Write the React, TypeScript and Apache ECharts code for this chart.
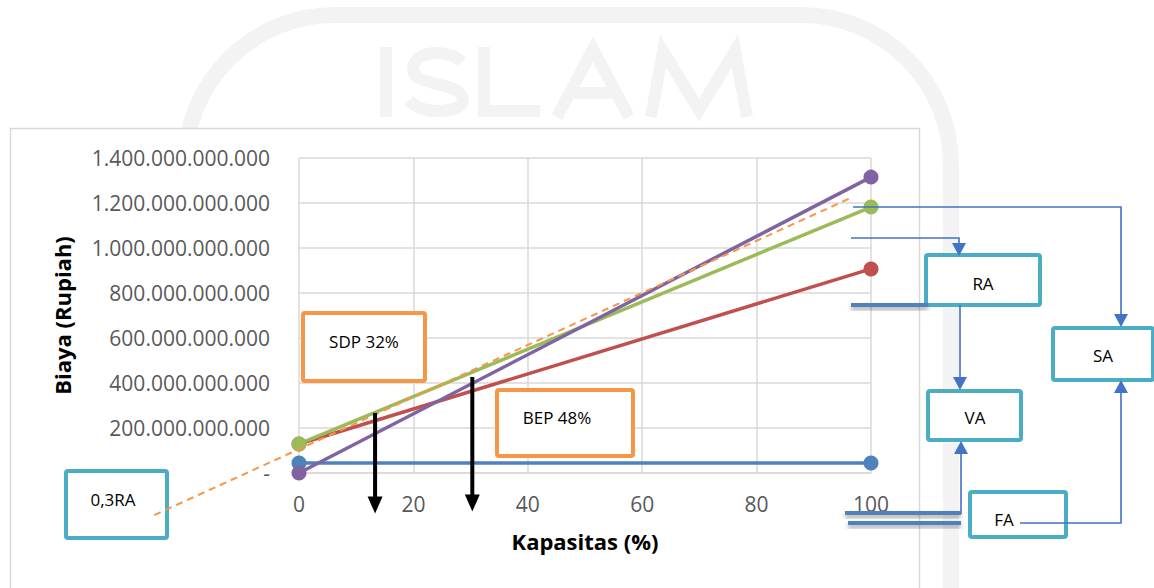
import React, { useEffect, useRef } from "react";
import * as echarts from "echarts";

// ---- data ----
const capacity = [0, 100];
const faValues = [44e9, 44e9]; // blue
const vaValues = [129e9, 907e9]; // red
const saValues = [129e9, 1182e9]; // green
const raValues = [0, 1315e9]; // purple
const raDashX = [-25.3, 96.4]; // 0,3RA dashed (orange)
const raDashY = [-187e9, 1222e9];
const arrowX = [13.3, 30.3];
const arrowTop = [267e9, 427e9];
const arrowHead = [-142e9, -133e9];
const xTicks = { min: 0, max: 100, step: 20 };
const yTicks = { min: 0, max: 1.4e12, step: 2e11 };

const FONT = "'Open Sans', 'Noto Sans', sans-serif";

const S_PATH =
  "M 462 62 C 455 55 446 53 437 53 C 422 53 413 60 413 69 C 413 78 424 81 437 84 C 452 87 463 92 463 100 C 463 107 452 111 437 111 C 425 111 415 107 409 100";
echarts.graphic.registerShape("wmS", echarts.graphic.extendPath(S_PATH, {}));

function fmt(v: number): string {
  if (v === 0) return "-";
  return String(Math.round(v)).replace(/\B(?=(\d{3})+(?!\d))/g, ".");
}

const toPairs = (xs: number[], ys: number[]) => xs.map((x, i) => [x, ys[i]]);

export default function App() {
  const ref = useRef<HTMLDivElement>(null);
  useEffect(() => {
    if (!ref.current) return;
    const chart = echarts.init(ref.current, undefined, { renderer: "svg" });

    const cyan = "#4bacc6";
    const orange = "#f79646";
    const conn = "#4472c4";
    const wmColor = "#f3f3f3";

    const box = (x: number, y: number, w: number, h: number, color: string, z = 5) => ({
      type: "rect",
      z,
      shape: { x, y, width: w, height: h, r: 2 },
      style: { fill: "#fff", stroke: color, lineWidth: 4 },
    });
    const label = (x: number, y: number, text: string, align = "center") => ({
      type: "text",
      z: 7,
      x,
      y,
      style: { text, fill: "#000", font: `17px ${FONT}`, align, verticalAlign: "middle" },
    });
    const pl = (points: number[][], lw = 1.6) => ({
      type: "polyline",
      z: 6,
      shape: { points },
      style: { stroke: conn, lineWidth: lw, fill: null },
    });
    const thick = (x: number, y: number, w: number) => ({
      type: "rect",
      z: 6,
      shape: { x, y: y - 2, width: w, height: 4 },
      style: {
        fill: "#4f81bd",
        shadowBlur: 4,
        shadowColor: "rgba(0,0,0,0.35)",
        shadowOffsetY: 3,
      },
    });
    const arrowDown = (x: number, tipY: number) => ({
      type: "polygon",
      z: 6,
      shape: { points: [[x - 7, tipY - 13], [x + 7, tipY - 13], [x, tipY]] },
      style: { fill: conn },
    });
    const arrowUp = (x: number, tipY: number) => ({
      type: "polygon",
      z: 6,
      shape: { points: [[x - 7, tipY + 13], [x + 7, tipY + 13], [x, tipY]] },
      style: { fill: conn },
    });
    const wmLine = (points: number[][]) => ({
      type: "polyline",
      z: 0,
      shape: { points },
      style: { stroke: wmColor, lineWidth: 12, fill: null, lineJoin: "miter", lineCap: "butt" },
    });

    const lineSeries = (data: number[][], color: string) => ({
      type: "line",
      data,
      symbol: "circle",
      symbolSize: 15,
      showSymbol: true,
      lineStyle: { color, width: 3.5 },
      itemStyle: { color },
      z: 3,
    });

    const arrowSeries = arrowX.map((x, i) => ({
      type: "line",
      clip: false,
      z: 4,
      symbol: "none",
      lineStyle: { color: "#000", width: 4 },
      itemStyle: { color: "#000" },
      data: [
        [x, arrowTop[i]],
        {
          value: [x, arrowHead[i]],
          symbol: "triangle",
          symbolSize: [15, 17],
          symbolRotate: 180,
          itemStyle: { color: "#000" },
        },
      ],
    }));

    chart.setOption({
      animation: false,
      backgroundColor: "#fff",
      grid: { left: 299, right: 283, top: 158, bottom: 115 },
      xAxis: {
        type: "value",
        min: xTicks.min,
        max: xTicks.max,
        interval: xTicks.step,
        z: 1,
        name: "Kapasitas (%)",
        nameLocation: "middle",
        nameGap: 57,
        nameTextStyle: { fontFamily: FONT, fontSize: 22, fontWeight: "bold", color: "#000" },
        axisLine: { show: true, lineStyle: { color: "#d9d9d9", width: 1.5 } },
        axisTick: { show: false },
        axisLabel: { margin: 20, fontFamily: FONT, fontSize: 21, color: "#595959" },
        splitLine: { show: true, lineStyle: { color: "#d9d9d9", width: 1.5 } },
      },
      yAxis: {
        type: "value",
        min: yTicks.min,
        max: yTicks.max,
        interval: yTicks.step,
        z: 1,
        name: "Biaya (Rupiah)",
        nameLocation: "middle",
        nameGap: 226,
        nameTextStyle: { fontFamily: FONT, fontSize: 22, fontWeight: "bold", color: "#000" },
        axisLine: { show: false },
        axisTick: { show: false },
        axisLabel: {
          margin: 29,
          fontFamily: FONT,
          fontSize: 21,
          color: "#595959",
          formatter: (v: number) => fmt(v),
        },
        splitLine: { show: true, lineStyle: { color: "#d9d9d9", width: 1.5 } },
      },
      graphic: [
        // watermark
        {
          type: "rect",
          z: 0,
          shape: { x: 185, y: 15, width: 766, height: 800, r: 150 },
          style: { fill: null, stroke: wmColor, lineWidth: 16 },
        },
        wmLine([[386, 47], [386, 117]]),
        {
          type: "wmS",
          z: 0,
          style: { fill: null, stroke: wmColor, lineWidth: 12 },
        },
        wmLine([[484, 47], [484, 111], [540, 111]]),
        wmLine([[557, 117], [593, 49], [629, 117]]),
        wmLine([[571, 93], [615, 93]]),
        wmLine([[651, 117], [663, 51], [699, 110], [735, 51], [747, 117]]),
        // chart frame
        {
          type: "rect",
          z: 0.5,
          shape: { x: 10.5, y: 128.5, width: 909, height: 480 },
          style: { fill: "#fff", stroke: "#d9d9d9", lineWidth: 1.5 },
        },
        // boxes
        box(303, 313, 122, 68, orange),
        label(364, 341, "SDP 32%"),
        box(497, 390, 136, 66, orange),
        label(557, 417, "BEP 48%"),
        box(66, 471, 101, 67, cyan, 2),
        label(113, 499, "0,3RA"),
        box(926, 255, 114, 50, cyan),
        label(983, 283, "RA"),
        box(1053, 328, 100, 52, cyan),
        label(1103, 355, "SA"),
        box(928, 391, 93, 49, cyan),
        label(975, 417, "VA"),
        box(970, 492, 96, 45, cyan),
        label(1004, 519, "FA"),
        // connectors
        pl([[853, 207], [1121, 207], [1121, 314]]),
        arrowDown(1121, 327),
        pl([[851, 238], [959, 238], [959, 243]]),
        arrowDown(959, 256),
        pl([[960, 305], [960, 378]]),
        arrowDown(960, 390),
        pl([[961, 514], [961, 454]]),
        arrowUp(961, 441),
        pl([[1020, 523], [1121, 523], [1121, 393]]),
        arrowUp(1121, 380),
        thick(851, 305, 77),
        thick(845, 513, 116),
        thick(848, 523, 113),
      ],
      series: [
        lineSeries(toPairs(capacity, faValues), "#4f81bd"),
        lineSeries(toPairs(capacity, vaValues), "#c0504d"),
        lineSeries(toPairs(capacity, saValues), "#9bbb59"),
        lineSeries(toPairs(capacity, raValues), "#8064a2"),
        {
          type: "custom",
          clip: false,
          z: 4,
          data: [[raDashX[0], raDashY[0], raDashX[1], raDashY[1]]],
          encode: { x: [0, 2], y: [1, 3] },
          renderItem: (params: any, api: any) => {
            const p1 = api.coord([api.value(0), api.value(1)]);
            const p2 = api.coord([api.value(2), api.value(3)]);
            return {
              type: "line",
              shape: { x1: p1[0], y1: p1[1], x2: p2[0], y2: p2[1] },
              style: { stroke: orange, lineWidth: 2, lineDash: [7, 5], fill: null },
            };
          },
        },
        ...arrowSeries,
      ],
    });
    return () => chart.dispose();
  }, []);
  return (
    <div
      ref={ref}
      style={{ position: "absolute", left: 0, top: 0, width: 1154, height: 588 }}
    />
  );
}
